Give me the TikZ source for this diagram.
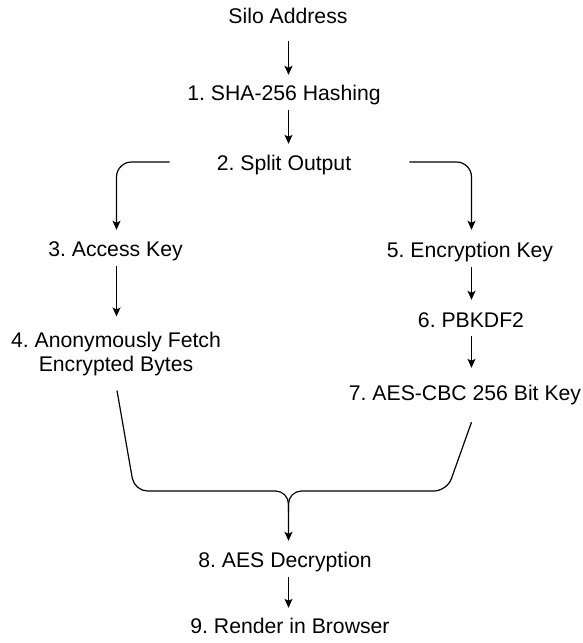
\documentclass[tikz,border=0pt]{standalone}
\usepackage{fontspec}
\setmainfont{Liberation Sans}
\usetikzlibrary{arrows.meta,calc}
\begin{document}
\frenchspacing
\begin{tikzpicture}[x=1pt,y=-1pt,
  lbl/.style={inner sep=0pt,text height=15pt,text depth=4pt,font=\fontsize{21.2}{24}\selectfont},
  conn/.style={line width=1.2pt,draw=black},
  arr/.style={conn,-{Stealth[length=9pt,width=8pt,inset=2pt]}}]
\useasboundingbox (0,0) rectangle (583,643);
\coordinate (join) at (288.5,491);
\node[lbl] (silo) at (288,17.5) {Silo Address};
\node[lbl] (sha) at (284,94.5) {1. SHA-256 Hashing};
\node[lbl] (split) at (284,164.5) {2. Split Output};
\node[lbl] (access) at (115.5,250.5) {3. Access Key};
\node[inner sep=0pt,align=center,font=\fontsize{21.2}{24}\selectfont] (fetch) at (116,354.5) {4. Anonymously Fetch\\Encrypted Bytes};
\node[lbl] (enc) at (470,251.5) {5. Encryption Key};
\node[lbl] (pbk) at (471,321.5) {6. PBKDF2};
\node[lbl] (aes) at (465,394.5) {7. AES-CBC 256 Bit Key};
\node[lbl] (dec) at (285,561.5) {8. AES Decryption};
\node[lbl] (render) at (290,627.5) {9. Render in Browser};
% straight arrows
\draw[arr,shorten <=14pt,shorten >=10pt] (join |- silo.south) -- (join |- sha.north);
\draw[arr,shorten <=6pt,shorten >=11pt] (join |- sha.south) -- (join |- split.north);
\draw[arr,shorten <=6pt,shorten >=16pt] ([xshift=1pt]access.south) -- ([xshift=1pt]access.south |- fetch.north);
\draw[arr,shorten <=6pt,shorten >=12pt] ([xshift=1.5pt]enc.south) -- ([xshift=1.5pt]enc.south |- pbk.north);
\draw[arr,shorten <=5pt,shorten >=17pt] ([xshift=0.5pt]pbk.south) -- ([xshift=0.5pt]pbk.south |- aes.north);
\draw[arr,shorten <=6pt,shorten >=10pt] (join |- dec.south) -- (join |- render.north);
% split brackets
\draw[arr,rounded corners=15pt,shorten <=47pt,shorten >=11pt] ([yshift=2.5pt]split.west) -| ([xshift=1pt]access.north);
\draw[arr,rounded corners=15pt,shorten <=58pt,shorten >=12pt] ([yshift=2.5pt]split.east) -| ([xshift=1.5pt]enc.north);
% merging brace
\coordinate (rtop) at ([xshift=0.5pt]pbk.south |- aes.south);
\draw[arr,rounded corners=13pt,shorten >=11pt] ([xshift=1pt,yshift=-14pt]fetch.south) -- (134.5,491) -- (join) -- (join |- dec.north);
\draw[conn,rounded corners=13pt] ([yshift=-18pt]rtop) -- (447,491) -- (join) -- ([yshift=-20pt]join);
\end{tikzpicture}
\end{document}
